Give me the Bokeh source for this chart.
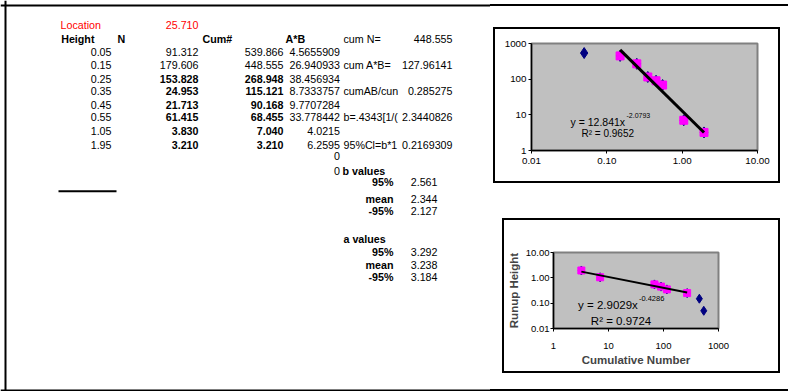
from bokeh.plotting import figure
from bokeh.models import Range1d, Span, Label, Spacer, FixedTicker, NumeralTickFormatter
from bokeh.layouts import row, column
from bokeh.embed import file_html
from bokeh.resources import INLINE
from bokeh.core.properties import value

FONT = "Liberation Sans"

# ---------------- data ----------------
location_label = "Location"
location_value = "25.710"
headers = ["Height", "N", "Cum#", "A*B"]
heights = [0.05, 0.15, 0.25, 0.35, 0.45, 0.55, 1.05, 1.95]
n_vals = [91.312, 179.606, 153.828, 24.953, 21.713, 61.415, 3.830, 3.210]
cum_vals = [539.866, 448.555, 268.948, 115.121, 90.168, 68.455, 7.040, 3.210]
ab_vals = ["4.5655909", "26.940933", "38.456934", "8.7333757", "9.7707284",
           "33.778442", "4.0215", "6.2595", "0", "0"]
stat_labels = ["cum N=", "cum  A*B=", "cumAB/cun", "b=.4343[1/(", "95%Cl=b*1"]
stat_values = ["448.555", "127.96141", "0.285275", "2.3440826", "0.2169309"]
ci_labels = ["95%", "mean", "-95%"]
b_values = [2.561, 2.344, 2.127]
a_values = [3.292, 3.238, 3.184]

trend1_x = [0.15, 1.95]
trend1_y = [664.0, 3.2]
eq1_text, eq1_exp, r2_1_text = "y = 12.841x", "-2.0793", "R² = 0.9652"

trend2_x = [3.21, 268.948]
trend2_y = [1.76, 0.264]
eq2_text, eq2_exp, r2_2_text = "y = 2.9029x", "-0.4286", "R² = 0.9724"
chart2_title = "25.71"
chart2_xlabel = "Cumulative Number"
chart2_ylabel = "Runup Height"


# ---------------- helpers ----------------
def txt(p, xs, ys, texts, align="left", bold=False, color="black", size="10.7px"):
    p.text(x=xs, y=ys, text=texts,
           text_font=value(FONT), text_font_size=size, text_align=align,
           text_baseline="middle", text_color=color,
           text_font_style="bold" if bold else "normal")


# ---------------- left spreadsheet figure ----------------
LW, H = 490, 391
left = figure(width=LW, height=H, x_range=Range1d(0, LW), y_range=Range1d(H, 0),
              min_border=0, x_axis_type=None, y_axis_type=None,
              toolbar_location=None, output_backend="svg", outline_line_color=None)
left.add_layout(Span(location=5, dimension="width", line_color="black", line_width=2))
left.add_layout(Span(location=390, dimension="width", line_color="black", line_width=2))
left.add_layout(Span(location=5, dimension="height", line_color="black", line_width=2))

row_y = [51, 64.3, 78.3, 90.7, 104.3, 116.7, 130, 144.3, 155.5, 170]
HEAD_Y = 38.3
COL_H, COL_N, COL_C, COL_AB, COL_LBL, COL_VAL = 111, 198, 283, 339.5, 343, 452

txt(left, [60], [24.3], [location_label], color="#FF0000")
txt(left, [COL_N], [24.3], [location_value], align="right", color="#FF0000")
txt(left, [60.7, 117, 202, 285], [HEAD_Y] * 4, headers, bold=True)

n = len(heights)
txt(left, [COL_H] * n, row_y[:n], [f"{h:.2f}" for h in heights], align="right")
txt(left, [COL_N] * 2, row_y[:2], [f"{v:.3f}" for v in n_vals[:2]], align="right")
txt(left, [COL_N] * (n - 2), row_y[2:n], [f"{v:.3f}" for v in n_vals[2:]], align="right", bold=True)
txt(left, [COL_C] * 2, row_y[:2], [f"{v:.3f}" for v in cum_vals[:2]], align="right")
txt(left, [COL_C] * (n - 2), row_y[2:n], [f"{v:.3f}" for v in cum_vals[2:]], align="right", bold=True)
txt(left, [COL_AB] * len(ab_vals), row_y[:len(ab_vals)], ab_vals, align="right")

stat_rows = [HEAD_Y, row_y[1], row_y[3], row_y[5], row_y[7]]
txt(left, [COL_LBL] * 5, stat_rows, stat_labels)
txt(left, [COL_VAL] * 5, stat_rows, stat_values, align="right")

txt(left, [342], [170], ["b values"], bold=True)
b_rows = [181.7, 198.5, 210.7]
txt(left, [393] * 3, b_rows, ci_labels, align="right", bold=True)
txt(left, [437] * 3, b_rows, [f"{v:.3f}" for v in b_values], align="right")
txt(left, [343], [238.5], ["a values"], bold=True)
a_rows = [251.2, 264.5, 276.5]
txt(left, [393] * 3, a_rows, ci_labels, align="right", bold=True)
txt(left, [437] * 3, a_rows, [f"{v:.3f}" for v in a_values], align="right")

left.segment(x0=[58], y0=[190.7], x1=[116], y1=[190.7], line_color="black", line_width=2)


# ---------------- charts ----------------
def style_chart(p, xfmt, yfmt, xticks, yticks, fs):
    p.background_fill_color = "#C0C0C0"
    p.border_fill_color = "white"
    p.outline_line_color = "#808080"
    p.outline_line_width = 2
    p.grid.visible = False
    p.xaxis.ticker = FixedTicker(ticks=xticks)
    p.yaxis.ticker = FixedTicker(ticks=yticks)
    p.xaxis.formatter = NumeralTickFormatter(format=xfmt)
    p.yaxis.formatter = NumeralTickFormatter(format=yfmt)
    for ax in (p.xaxis[0], p.yaxis[0]):
        ax.axis_line_color = "black"
        ax.axis_line_width = 1.5
        ax.major_tick_out = 3
        ax.major_tick_in = 0
        ax.major_tick_line_color = "black"
        ax.minor_tick_out = 0
        ax.minor_tick_in = 0
        ax.major_label_text_font = FONT
        ax.major_label_text_font_size = fs
        ax.major_label_text_color = "black"


def add_label(p, pos, t, fs, bold=False, align="left"):
    x, y = pos
    p.add_layout(Label(x=x, y=y, text=t, text_font=FONT, text_font_size=fs,
                       text_font_style="bold" if bold else "normal",
                       text_baseline="middle", text_align=align, text_color="black"))


# chart 1: plot area screen x 531..757, y 43..150 ; inner box 495..778, 29..181
c1 = figure(width=283, height=152, x_axis_type="log", y_axis_type="log",
            x_range=Range1d(0.01, 10), y_range=Range1d(1, 1000),
            min_border_left=36, min_border_right=21, min_border_top=14, min_border_bottom=31,
            toolbar_location=None, output_backend="svg")
style_chart(c1, "0.00", "0", [0.01, 0.1, 1, 10], [1, 10, 100, 1000], "9.8px")
c1.xaxis.major_label_standoff = 4
c1.yaxis.major_label_standoff = 2
c1.scatter(heights, cum_vals, marker="diamond", size=11, fill_color="#000080", line_color="#000080")
c1.scatter(heights[1:], cum_vals[1:], marker="square", size=8, fill_color="#FF00FF", line_color="#FF00FF")
c1.line(trend1_x, trend1_y, line_color="black", line_width=3)


def c1_pos(sx, sy):
    return 10 ** (-2 + (sx - 531) / (226 / 3)), 10 ** (3 - (sy - 43) / (107 / 3))


add_label(c1, c1_pos(570, 121), eq1_text, "10.5px")
add_label(c1, c1_pos(626, 115), eq1_exp, "7px")
add_label(c1, c1_pos(581, 133), r2_1_text, "10px")

# chart 2: plot area screen x 550..718, y 252..328 ; inner box 504..778, 220..371
c2 = figure(width=274, height=151, x_axis_type="log", y_axis_type="log",
            x_range=Range1d(1, 1000), y_range=Range1d(0.01, 10),
            min_border_left=46, min_border_right=60, min_border_top=32, min_border_bottom=43,
            toolbar_location=None, output_backend="svg")
style_chart(c2, "0", "0.00", [1, 10, 100, 1000], [0.01, 0.1, 1, 10], "9.5px")
c2.xaxis.major_label_standoff = 11
c2.yaxis.major_label_standoff = 1
c2.xaxis.axis_label = chart2_xlabel
c2.yaxis.axis_label = chart2_ylabel
for ax in (c2.xaxis[0], c2.yaxis[0]):
    ax.axis_label_text_font = FONT
    ax.axis_label_text_font_size = "11.5px"
    ax.axis_label_text_font_style = "bold"
    ax.axis_label_standoff = 2
c2.yaxis.axis_label_standoff = 3
c2.scatter(cum_vals, heights, marker="diamond", size=9, fill_color="#000080", line_color="#000080")
c2.scatter(cum_vals[2:], heights[2:], marker="square", size=7, fill_color="#FF00FF", line_color="#FF00FF")
c2.line(trend2_x, trend2_y, line_color="black", line_width=2)


def c2_pos(sx, sy):
    return 10 ** ((sx - 550) / 56), 10 ** (1 - (sy - 252) / (76 / 3))


add_label(c2, c2_pos(640, 230), chart2_title, "10.7px", bold=True, align="center")
add_label(c2, c2_pos(575, 304), eq2_text, "11.5px")
add_label(c2, c2_pos(637, 298), eq2_exp, "7.5px")
add_label(c2, c2_pos(588, 320), r2_2_text, "11.5px")


# ---------------- page layout ----------------
def bar(w, h):
    return Spacer(width=w, height=h, styles={"background-color": "black"})


box1 = row(bar(2, 156), column(bar(283, 2), c1, bar(283, 2)), bar(2, 156))
box2 = row(bar(2, 155), column(bar(274, 2), c2, bar(274, 2)), bar(2, 155))
RW = 298
right = column(Spacer(width=RW, height=4), bar(RW, 2), Spacer(width=RW, height=21),
               row(Spacer(width=3, height=156), box1),
               Spacer(width=RW, height=35),
               row(Spacer(width=12, height=155), box2),
               Spacer(width=RW, height=16), bar(RW, 2))
page = row(left, right)

open("out.html", "w").write(file_html(page, INLINE))
